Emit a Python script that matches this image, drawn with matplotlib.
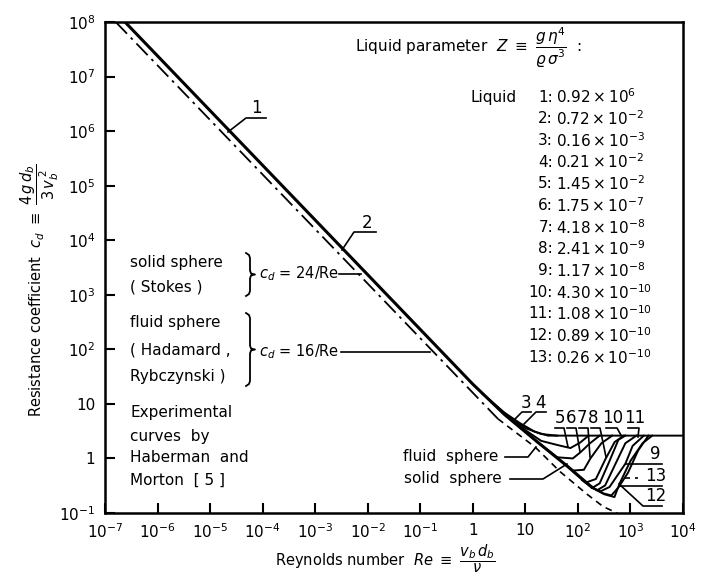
import matplotlib
matplotlib.use("Agg")
import matplotlib.pyplot as plt
from matplotlib.lines import Line2D

plt.rcParams['font.family'] = ['DejaVu Sans']
plt.rcParams['mathtext.fontset'] = 'dejavusans'

# ---------------- data ----------------
x_ticks = [1e-7, 1e-6, 1e-5, 1e-4, 1e-3, 1e-2, 1e-1, 1, 10, 1e2, 1e3, 1e4]
x_tick_labels = ['$10^{-7}$', '$10^{-6}$', '$10^{-5}$', '$10^{-4}$', '$10^{-3}$', '$10^{-2}$',
                 '$10^{-1}$', '1', '10', '$10^{2}$', '$10^{3}$', '$10^{4}$']
y_ticks = [1e-1, 1, 10, 1e2, 1e3, 1e4, 1e5, 1e6, 1e7, 1e8]
y_tick_labels = ['$10^{-1}$', '1', '10', '$10^{2}$', '$10^{3}$', '$10^{4}$',
                 '$10^{5}$', '$10^{6}$', '$10^{7}$', '$10^{8}$']

# Hadamard-Rybczynski (fluid sphere, cd = 16/Re), dash-dot
re_hadamard = [1.6e-7, 3.0]
cd_hadamard = [1e8, 5.33]
# fluid sphere continuation at higher Re, dashed
re_fluid = [3.0, 15.5, 46, 150, 306, 560]
cd_fluid = [5.33, 1.6, 0.57, 0.22, 0.13, 0.10]
# main experimental line (liquids 1, 2 and Stokes 24/Re) + lower envelope
re_main = [2.4e-7, 1.0, 4.0, 17, 63, 189]
cd_main = [1e8, 23, 6.4, 2.0, 0.72, 0.29]
# experimental curves of the fan
re_c3 = [1.5, 4, 8, 15, 27, 1e4]
cd_c3 = [15.5, 6.9, 4.4, 3.1, 2.62, 2.62]
re_c4 = [2, 5, 10, 20, 40]
cd_c4 = [12.2, 5.6, 3.6, 2.8, 2.62]
re_c5 = [6, 20, 42, 72, 110, 160]
cd_c5 = [4.6, 2.1, 1.75, 1.55, 1.95, 2.62]
re_c6 = [17, 40, 80, 112, 170, 260]
cd_c6 = [2.0, 1.05, 1.0, 1.3, 1.9, 2.62]
re_c7 = [40, 80, 130, 173, 280, 450]
cd_c7 = [1.03, 0.6, 0.62, 1.0, 1.9, 2.62]
re_c8 = [80, 140, 220, 330, 500, 750]
cd_c8 = [0.58, 0.36, 0.42, 0.95, 2.0, 2.62]
re_c10 = [120, 189, 260, 400, 590, 800]
cd_c10 = [0.40, 0.29, 0.35, 0.9, 2.2, 2.62]
re_c11 = [150, 230, 330, 520, 800, 1300]
cd_c11 = [0.35, 0.26, 0.32, 0.8, 1.9, 2.62]
re_c9 = [189, 270, 400, 800, 1100, 1800]
cd_c9 = [0.29, 0.25, 0.30, 0.8, 1.7, 2.62]
re_c13 = [189, 300, 434, 600, 900, 1400, 2200]
cd_c13 = [0.29, 0.23, 0.21, 0.30, 0.55, 1.4, 2.62]
re_c12 = [189, 320, 496, 620, 1000, 1700, 2600]
cd_c12 = [0.29, 0.22, 0.196, 0.345, 0.9, 1.9, 2.62]

liquid_ids = ['1', '2', '3', '4', '5', '6', '7', '8', '9', '10', '11', '12', '13']
liquid_mant = ['0.92', '0.72', '0.16', '0.21', '1.45', '1.75', '4.18', '2.41', '1.17',
               '4.30', '1.08', '0.89', '0.26']
liquid_exp = ['6', '-2', '-3', '-2', '-2', '-7', '-8', '-9', '-8', '-10', '-10', '-10', '-10']

# ---------------- figure ----------------
W, H = 708, 574
fig = plt.figure(figsize=(W / 100, H / 100), dpi=100)
ax = fig.add_axes([105 / W, 1 - 513 / H, (683 - 105) / W, (513 - 22) / H])
ax.set_xscale('log')
ax.set_yscale('log')
ax.set_xlim(1e-7, 1e4)
ax.set_ylim(1e-1, 1e8)

ax.plot(re_hadamard, cd_hadamard, color='k', lw=1.3, ls=(0, (9, 3, 1.5, 3)))
ax.plot(re_fluid, cd_fluid, color='k', lw=1.2, ls=(0, (4, 3)))
ax.plot(re_main, cd_main, color='k', lw=2.2, solid_capstyle='round')
for r, c in [(re_c3, cd_c3), (re_c4, cd_c4), (re_c5, cd_c5), (re_c6, cd_c6),
             (re_c7, cd_c7), (re_c8, cd_c8), (re_c10, cd_c10), (re_c11, cd_c11),
             (re_c9, cd_c9), (re_c13, cd_c13), (re_c12, cd_c12)]:
    ax.plot(r, c, color='k', lw=1.4)

ax.minorticks_off()
ax.set_xticks(x_ticks)
ax.set_xticklabels(x_tick_labels)
ax.set_yticks(y_ticks)
ax.set_yticklabels(y_tick_labels)
ax.tick_params(direction='in', length=7, width=1.5, labelsize=11, pad=7,
               top=False, right=False)
for sp in ax.spines.values():
    sp.set_linewidth(1.8)


def T(x, y, s, **kw):
    kw.setdefault('fontsize', 11)
    kw.setdefault('va', 'center')
    fig.text(x / W, 1 - y / H, s, **kw)


def L(pts, **kw):
    kw.setdefault('lw', 1.2)
    xs = [p[0] / W for p in pts]
    ys = [1 - p[1] / H for p in pts]
    fig.add_artist(Line2D(xs, ys, transform=fig.transFigure, color='k', **kw))


def brace(x, y0, y1):
    m = (y0 + y1) / 2
    L([(x, y0), (x + 3, y0 + 2), (x + 4, y0 + 5), (x + 4, m - 4), (x + 5, m - 1),
       (x + 9, m), (x + 5, m + 1), (x + 4, m + 4), (x + 4, y1 - 5), (x + 3, y1 - 2), (x, y1)],
      lw=1.3)


# axis titles
T(40, 290, r'Resistance coefficient  $c_d\ \equiv\ \dfrac{4\,g\,d_b}{3\,v_b^{\,2}}$',
  rotation=90, ha='center', fontsize=10.5)
T(385, 566, r'Reynolds number  $Re\ \equiv\ \dfrac{v_b\,d_b}{\nu}$', ha='center',
  va='baseline', fontsize=10.5)

# liquid parameter table
T(355, 48, r'Liquid parameter  $Z\ \equiv\ \dfrac{g\,\eta^4}{\varrho\,\sigma^3}$  :', ha='left')
T(471, 97, 'Liquid', ha='left')
for i, (n, m, e) in enumerate(zip(liquid_ids, liquid_mant, liquid_exp)):
    y = 97 + 21.7 * i
    T(553, y, n + ':', ha='right')
    T(556, y, r'$' + m + r'\times 10^{' + e + r'}$', ha='left')

# left notes
T(130, 262, 'solid sphere', ha='left')
T(130, 287, '( Stokes )', ha='left')
brace(246, 253, 296)
T(259, 274, r'$c_d$ = 24/Re', ha='left', fontsize=10.5)
L([(339, 274), (361, 274)])
T(130, 323, 'fluid sphere', ha='left')
T(130, 350, '( Hadamard ,', ha='left')
T(130, 376, 'Rybczynski )', ha='left')
brace(246, 313, 386)
T(259, 352, r'$c_d$ = 16/Re', ha='left', fontsize=10.5)
L([(341, 352), (430, 352)])
T(130, 413, 'Experimental', ha='left')
T(130, 436, 'curves  by', ha='left')
T(130, 458, 'Haberman  and', ha='left')
T(130, 480, 'Morton  [ 5 ]', ha='left')

# curve labels
T(256, 108, '1', ha='center', fontsize=12)
L([(228, 132), (246, 118), (266, 118)])
T(367, 223, '2', ha='center', fontsize=12)
L([(342, 250), (354, 232), (376, 232)])
T(526, 403, '3', ha='center', fontsize=12)
T(540, 403, '4', ha='center', fontsize=12)
L([(531, 412), (522, 412), (513, 421)])
L([(546, 412), (536, 412), (524, 424)])
for d, x0 in zip(['5', '6', '7', '8'], [560, 571, 582, 593]):
    T(x0, 418, d, ha='center', fontsize=12)
L([(555, 428), (564, 428), (568, 447)])
L([(567, 428), (576, 428), (580, 452)])
L([(579, 428), (588, 428), (590, 457)])
L([(591, 428), (600, 428), (606, 457)])
T(613, 418, '10', ha='center', fontsize=12)
L([(606, 428), (617, 428), (622, 437)])
T(635, 418, '11', ha='center', fontsize=12)
L([(628, 428), (639, 428), (638, 437)])
T(655, 454, '9', ha='center', fontsize=12)
L([(626, 464), (662, 464)])
T(656, 476, '13', ha='center', fontsize=12)
L([(625, 478), (638, 478)], ls=(0, (3, 3)))
L([(620, 486), (662, 486)])
T(656, 496, '12', ha='center', fontsize=12)
L([(619, 484), (643, 506), (662, 506)])

T(498, 457, 'fluid  sphere', ha='right')
L([(505, 457), (528, 457), (536, 447)])
T(502, 479, 'solid  sphere', ha='right')
L([(510, 479), (543, 479), (567, 464)])

fig.savefig('out.png', dpi=100, facecolor='white')
